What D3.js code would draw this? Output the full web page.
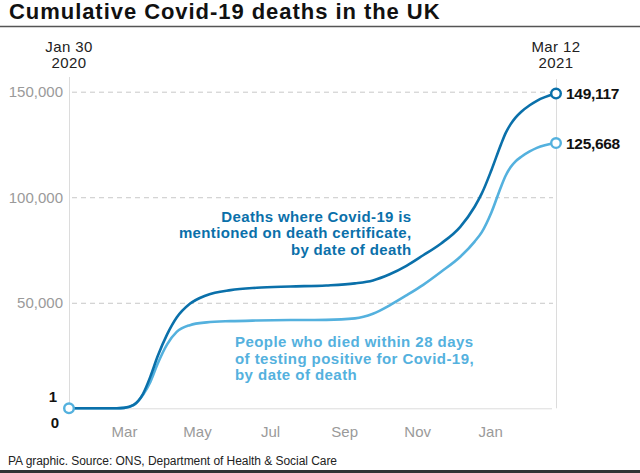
<!DOCTYPE html>
<html>
<head>
<meta charset="utf-8">
<script src="https://cdn.jsdelivr.net/npm/d3@7"></script>
<style>
  html, body { margin: 0; padding: 0; background: #fff; }
  svg { display: block; }
  text { font-family: "Liberation Sans", Arial, sans-serif; }
</style>
</head>
<body>
<svg id="chart" width="640" height="473"></svg>
<script>
// ---- Data ----
const dates = [
  "2020-01-30","2020-03-10","2020-03-16","2020-03-24","2020-04-01","2020-04-07","2020-04-13",
  "2020-04-21","2020-04-29","2020-05-10","2020-05-24","2020-06-13","2020-07-05","2020-08-02",
  "2020-09-01","2020-09-25","2020-10-10","2020-10-24","2020-11-07","2020-11-21","2020-12-06",
  "2020-12-22","2021-01-03","2021-01-09","2021-01-17","2021-01-25","2021-01-29","2021-02-02",
  "2021-02-06","2021-02-11","2021-02-18","2021-02-24","2021-03-12"
];
const certificateDeaths = [
  1, 20, 200, 1600, 7000, 15000, 24500,
  35000, 43000, 49500, 53600, 56000, 57100, 57700,
  58200, 59200, 60600, 63500, 67500, 72500, 78100,
  86000, 95500, 101800, 112800, 125000, 130500, 134500,
  137600, 140500, 143600, 145700, 149117
];
const within28Days = [
  1, 20, 200, 1500, 6500, 12500, 21000,
  30300, 36200, 39400, 40700, 41300, 41600, 41800,
  41900, 42600, 44800, 48800, 53500, 58500, 64700,
  71800, 79000, 83500, 92800, 104900, 110300, 114200,
  116900, 119200, 121700, 123400, 125668
];
const yTicks = [50000, 100000, 150000];
const monthLabels = ["2020-03-16","2020-05-16","2020-07-16","2020-09-16","2020-11-16","2021-01-16"];
const startLabel = ["Jan 30", "2020"];
const endLabel = ["Mar 12", "2021"];
const darkNote = ["Deaths where Covid-19 is", "mentioned on death certificate,", "by date of death"];
const lightNote = ["People who died within 28 days", "of testing positive for Covid-19,", "by date of death"];

const DARK = "#0a70aa";
const LIGHT = "#54b1de";

const parse = d3.timeParse("%Y-%m-%d");
const svg = d3.select("#chart");

// Title and rules
svg.append("text").attr("x", 9).attr("y", 19)
  .attr("font-size", 22).attr("font-weight", 700).attr("fill", "#111")
  .attr("letter-spacing", 0.95)
  .text("Cumulative Covid-19 deaths in the UK");
svg.append("line").attr("x1", 0).attr("x2", 640).attr("y1", 26.5).attr("y2", 26.5)
  .attr("stroke", "#555").attr("stroke-width", 1.3);
svg.append("text").attr("x", 8).attr("y", 465)
  .attr("font-size", 12).attr("fill", "#222").attr("letter-spacing", -0.05)
  .text("PA graphic. Source: ONS, Department of Health & Social Care");
svg.append("rect").attr("x", 0).attr("y", 470).attr("width", 640).attr("height", 3).attr("fill", "#333");

// Scales
const x = d3.scaleTime()
  .domain([parse(dates[0]), parse(dates[dates.length - 1])])
  .range([69, 556]);
const y = d3.scaleLinear().domain([0, 150000]).range([408.3, 91.7]);

// Gridlines + y labels
const yAxis = d3.axisLeft(y).tickValues(yTicks).tickFormat(d3.format(","))
  .tickSize(-(556 - 72)).tickPadding(6);
const gy = svg.append("g").attr("transform", "translate(69,0)").call(yAxis);
gy.select(".domain").remove();
gy.selectAll(".tick line").attr("stroke", "#c8c8c8").attr("stroke-dasharray", "5,4")
  .attr("x1", 3);
gy.selectAll(".tick text").attr("font-size", 15).attr("fill", "#9a9a9a")
  .attr("font-family", "Liberation Sans, Arial, sans-serif");

// Axis lines
svg.append("line").attr("x1", 69.5).attr("x2", 69.5).attr("y1", 77).attr("y2", 408.3)
  .attr("stroke", "#dcdcdc").attr("stroke-width", 1);
svg.append("line").attr("x1", 556.5).attr("x2", 556.5).attr("y1", 79).attr("y2", 408.3)
  .attr("stroke", "#dcdcdc").attr("stroke-width", 1);
svg.append("line").attr("x1", 69).attr("x2", 552).attr("y1", 408.8).attr("y2", 408.8)
  .attr("stroke", "#dcdcdc").attr("stroke-width", 1);

// x month labels
const xAxis = d3.axisBottom(x).tickValues(monthLabels.map(parse))
  .tickFormat(d3.timeFormat("%b")).tickSize(0).tickPadding(0);
const gx = svg.append("g").attr("transform", "translate(0,425)").call(xAxis);
gx.select(".domain").remove();
gx.selectAll(".tick text").attr("font-size", 15).attr("fill", "#9a9a9a")
  .attr("font-family", "Liberation Sans, Arial, sans-serif").attr("dy", "0.78em");

// start / end date labels
[[startLabel, dates[0]], [endLabel, dates[dates.length - 1]]].forEach(([lbl, d]) => {
  lbl.forEach((t, i) => {
    svg.append("text").attr("x", x(parse(d))).attr("y", 52 + i * 16)
      .attr("text-anchor", "middle").attr("font-size", 15).attr("fill", "#222")
      .attr("letter-spacing", 0.4).text(t);
  });
});

// "1" and "0" labels
svg.append("text").attr("x", 57).attr("y", 402).attr("text-anchor", "end")
  .attr("font-size", 15).attr("font-weight", 700).attr("fill", "#111").text("1");
svg.append("text").attr("x", 55).attr("y", 428).attr("text-anchor", "middle")
  .attr("font-size", 15).attr("font-weight", 700).attr("fill", "#111").text("0");

// Lines
const line = d3.line().x(d => x(d[0])).y(d => y(d[1])).curve(d3.curveMonotoneX);
const darkData = dates.map((d, i) => [parse(d), certificateDeaths[i]]);
const lightData = dates.map((d, i) => [parse(d), within28Days[i]]);
svg.append("path").datum(lightData).attr("d", line).attr("fill", "none")
  .attr("stroke", LIGHT).attr("stroke-width", 2.6);
svg.append("path").datum(darkData).attr("d", line).attr("fill", "none")
  .attr("stroke", DARK).attr("stroke-width", 2.6);

// End markers + labels
[[darkData, DARK], [lightData, LIGHT]].forEach(([data, col]) => {
  const last = data[data.length - 1];
  svg.append("circle").attr("cx", x(last[0])).attr("cy", y(last[1])).attr("r", 4.8)
    .attr("fill", "#fff").attr("stroke", col).attr("stroke-width", 2.4);
  svg.append("text").attr("x", x(last[0]) + 10).attr("y", y(last[1]) + 5.5)
    .attr("font-size", 15.5).attr("font-weight", 700).attr("fill", "#111")
    .attr("letter-spacing", -0.3).text(d3.format(",")(last[1]));
});
// Start marker
svg.append("circle").attr("cx", x(darkData[0][0])).attr("cy", y(darkData[0][1])).attr("r", 4.8)
  .attr("fill", "#fff").attr("stroke", LIGHT).attr("stroke-width", 2.4);

// Annotations
darkNote.forEach((t, i) => {
  svg.append("text").attr("x", 411.5).attr("y", 221.7 + i * 16.7).attr("text-anchor", "end")
    .attr("font-size", 15).attr("font-weight", 700).attr("fill", DARK)
    .attr("letter-spacing", 0.35).text(t);
});
lightNote.forEach((t, i) => {
  svg.append("text").attr("x", 235).attr("y", 347 + i * 16.7).attr("text-anchor", "start")
    .attr("font-size", 15).attr("font-weight", 700).attr("fill", LIGHT)
    .attr("letter-spacing", 0.45).text(t);
});
</script>
</body>
</html>
